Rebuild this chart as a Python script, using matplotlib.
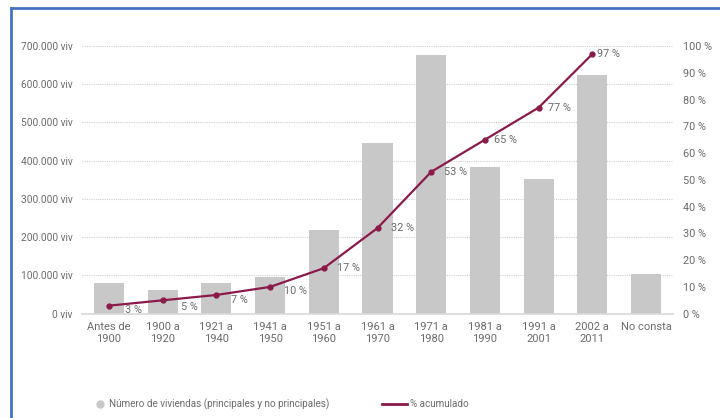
import matplotlib
matplotlib.use("Agg")
import matplotlib.pyplot as plt
from matplotlib.lines import Line2D

plt.rcParams['font.family'] = ['Roboto', 'DejaVu Sans']

categories = ["Antes de\n1900", "1900 a\n1920", "1921 a\n1940", "1941 a\n1950", "1951 a\n1960",
              "1961 a\n1970", "1971 a\n1980", "1981 a\n1990", "1991 a\n2001", "2002 a\n2011", "No consta"]
viviendas = [80500, 62000, 81000, 97000, 218000, 447000, 676000, 384000, 353000, 625000, 104000]
acumulado = [3, 5, 7, 10, 17, 32, 53, 65, 77, 97]
acum_labels = ["3 %", "5 %", "7 %", "10 %", "17 %", "32 %", "53 %", "65 %", "77 %", "97 %"]
left_ticks = [0, 100000, 200000, 300000, 400000, 500000, 600000, 700000]
left_labels = ["0 viv", "100.000 viv", "200.000 viv", "300.000 viv", "400.000 viv",
               "500.000 viv", "600.000 viv", "700.000 viv"]
right_ticks = [0, 10, 20, 30, 40, 50, 60, 70, 80, 90, 100]
right_labels = [f"{t} %" for t in right_ticks]

# label offsets in pixels (dx right, dy down) -- style only
label_offsets_px = [(16, 4), (18, 7), (15, 5), (14, 4), (13, 0), (13, 0), (13, 0), (9, 0), (9, 0), (5, 0)]

BAR = "#c8c8c8"
LINE = "#8b1a4b"
TXT = "#6b6b6b"

W, H = 720, 418
fig = plt.figure(figsize=(W / 100, H / 100), dpi=100)
ax = fig.add_axes([82 / W, 1 - 313.7 / H, (673 - 82) / W, (313.7 - 46) / H])

x = list(range(len(categories)))
ax.bar(x, viviendas, width=0.56, color=BAR, zorder=2)
ax.set_xlim(-0.5, len(categories) - 0.5)
ax.set_ylim(0, 700000)
ax.set_yticks(left_ticks)
ax.set_yticklabels(left_labels)
ax.set_xticks(x)
ax.set_xticklabels(categories)
ax.grid(axis='y', color="#cfcfcf", linestyle=(0, (1, 1)), linewidth=0.8, zorder=0)
for s in ['top', 'right', 'left']:
    ax.spines[s].set_visible(False)
ax.spines['bottom'].set_color("#d9d9d9")
ax.spines['bottom'].set_linewidth(1.2)
ax.tick_params(axis='x', length=0, labelsize=8, colors=TXT, pad=6)
ax.tick_params(axis='y', length=0, labelsize=7.3, colors=TXT, pad=7)

ax2 = ax.twinx()
ax2.set_ylim(0, 100)
ax2.set_yticks(right_ticks)
ax2.set_yticklabels(right_labels)
for s in ax2.spines.values():
    s.set_visible(False)
ax2.tick_params(axis='y', length=0, labelsize=7.8, colors=TXT, pad=7)
ax2.plot(x[:len(acumulado)], acumulado, color=LINE, linewidth=1.6, marker='o', markersize=3.5, zorder=5)
for xi, v, lab, (dx, dy) in zip(x, acumulado, acum_labels, label_offsets_px):
    ax2.annotate(lab, (xi, v), xytext=(dx * 0.72, -dy * 0.72), textcoords='offset points',
                 ha='left', va='center', fontsize=7.8, color=TXT)

# legend
fig.lines.append(Line2D([100 / W], [1 - 404 / H], marker='o', markersize=5, color=BAR,
                        linestyle='none', transform=fig.transFigure))
fig.text(109 / W, 1 - 404 / H, "Número de viviendas (principales y no principales)",
         fontsize=7.1, color=TXT, va='center', ha='left')
fig.lines.append(Line2D([382 / W, 407 / W], [1 - 404 / H, 1 - 404 / H], color=LINE, linewidth=2,
                        transform=fig.transFigure))
fig.text(410 / W, 1 - 404 / H, "% acumulado", fontsize=7.1, color=TXT, va='center', ha='left')

# frame
fig.lines.append(Line2D([11 / W, 11 / W], [0, 1 - 8 / H], color="#4472c4", linewidth=2,
                        transform=fig.transFigure))
fig.lines.append(Line2D([11 / W, 1], [1 - 8 / H, 1 - 8 / H], color="#4472c4", linewidth=2,
                        transform=fig.transFigure))

fig.savefig("out.png", dpi=100)
